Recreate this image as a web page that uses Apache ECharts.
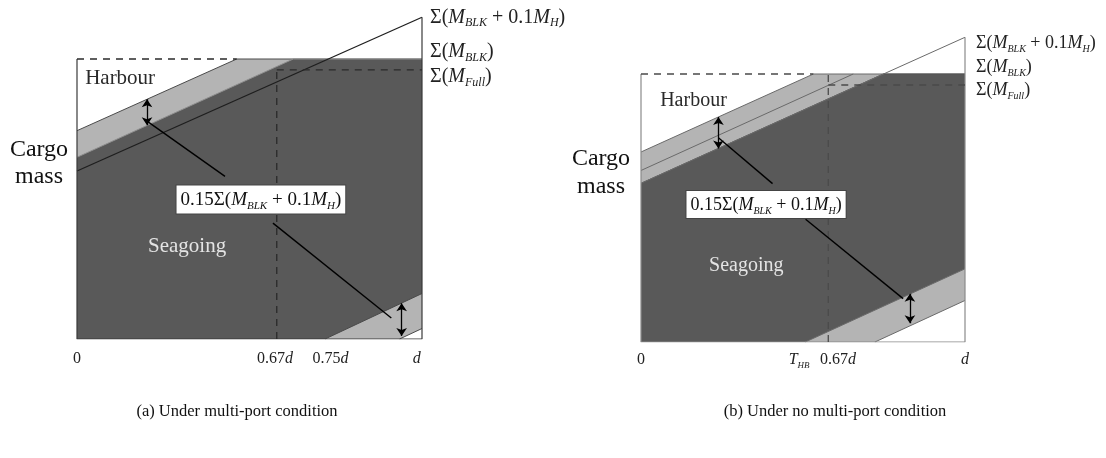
<!DOCTYPE html>
<html>
<head>
<meta charset="utf-8">
<script src="https://cdn.jsdelivr.net/npm/echarts@6.0.0/dist/echarts.min.js"></script>
<style>html,body{margin:0;padding:0;background:#fff}#c{width:1106px;height:458px}</style>
</head>
<body>
<div id="c"></div>
<script>
// ===== DATA (x = fraction of draft d, y relative to Σ(M_BLK) = 1) =====
// Panel (a): multi-port condition
const aBandTop     = [[0, 0.744], [0.463, 1], [1, 1]];   // harbour band upper edge
const aBandMid     = null;
const aSeagoingTop = [[0, 0.649], [0.627, 1], [1, 1]];   // seagoing region upper edge
const aBlkHLine    = [[0, 0.600], [1, 1.149]];           // Σ(M_BLK + 0.1M_H)
const aLowBandTop  = [[0.719, 0], [1, 0.1625]];
const aLowBandBot  = [[0.935, 0], [1, 0.0375]];
const aFullLevel   = 0.961;                              // Σ(M_Full)
const aDraft067    = 0.579;
const aTopDashEnd  = 0.463;
const aArrows      = [[[0.203, 0.763], [0.203, 0.856]], [[0.941, 0.011], [0.941, 0.1275]]];
const aLeaders     = [[[0.204, 0.777], [0.429, 0.581]], [[0.568, 0.414], [0.911, 0.075]]];
const aTickPos     = [0, 0.574, 0.735, 0.985];
const aTickLabels  = ['0', '0.67d', '0.75d', 'd'];
const aHarbourAt   = [0.125, 0.93];
const aSeagoingAt  = [0.319, 0.329];
const aNoteAt      = [0.533, 0.498];

// Panel (b): no multi-port condition
const bBandTop     = [[0, 0.709], [0.532, 1], [1, 1]];
const bBandMid     = [[0, 0.640], [0.655, 1]];
const bSeagoingTop = [[0, 0.592], [0.748, 1], [1, 1]];
const bBlkHLine    = [[0, 0.592], [1, 1.137]];
const bLowBandTop  = [[0.507, 0], [1, 0.273]];
const bLowBandBot  = [[0.722, 0], [1, 0.155]];
const bFullLevel   = 0.959;
const bDraft067    = 0.578;
const bTopDashEnd  = 0.532;
const bArrows      = [[[0.239, 0.722], [0.239, 0.840]], [[0.830, 0.070], [0.830, 0.180]]];
const bLeaders     = [[[0.239, 0.762], [0.406, 0.591]], [[0.508, 0.458], [0.809, 0.162]]];
const bTickPos     = [0, 0.488, 0.608, 1];
const bTickLabels  = ['0', 'T_HB', '0.67d', 'd'];
const bHarbourAt   = [0.162, 0.901];
const bSeagoingAt  = [0.325, 0.284];
const bNoteAt      = [0.386, 0.513];

const captions = ['(a) Under multi-port condition', '(b) Under no multi-port condition'];

// ===== STYLE =====
const SERIF = '"Liberation Serif","Times New Roman",serif';
const DARK = '#595959', LIGHT = '#b4b4b4';
function R(fs, color) {
  const sub = Math.round(fs * 0.58);
  return {
    n: {fontFamily: SERIF, fontSize: fs, color: color, lineHeight: fs + 4},
    i: {fontFamily: SERIF, fontSize: fs, fontStyle: 'italic', color: color, lineHeight: fs + 4},
    s: {fontFamily: SERIF, fontSize: sub, fontStyle: 'italic', color: color, lineHeight: sub + 1, verticalAlign: 'bottom'}
  };
}
const SUM_BH = '{n|Σ(}{i|M}{s|BLK}{n| + 0.1}{i|M}{s|H}{n|)}';
const SUM_B  = '{n|Σ(}{i|M}{s|BLK}{n|)}';
const SUM_F  = '{n|Σ(}{i|M}{s|Full}{n|)}';
const NOTE   = '{n|0.15Σ(}{i|M}{s|BLK}{n| + 0.1}{i|M}{s|H}{n|)}';
function tickRich(t) {
  if (t === 'T_HB') return '{i|T}{s|HB}';
  if (t.endsWith('d')) return (t.length > 1 ? '{n|' + t.slice(0, -1) + '}' : '') + '{i|d}';
  return '{n|' + t + '}';
}

function buildPanel(gi, P, S) {
  const ax = {xAxisIndex: gi, yAxisIndex: gi};
  const base = Object.assign({type: 'line', symbol: 'none', silent: true, animation: false}, ax);
  const dashed = {color: S.dash, width: 1.3, type: [7, 6]};
  const list = [];
  list.push(Object.assign({}, base, {z: 1, data: P.bandTop,
    lineStyle: {color: S.edge, width: 1}, areaStyle: {color: LIGHT, opacity: 1},
    endLabel: {show: true, formatter: () => SUM_B, rich: R(S.fs, '#222'), distance: S.dist, offset: [0, S.offB]}}));
  if (P.bandMid) list.push(Object.assign({}, base, {z: 2, data: P.bandMid, lineStyle: {color: S.edge, width: 1}}));
  list.push(Object.assign({}, base, {z: 3, data: P.seagoingTop,
    lineStyle: {color: S.bEdge, width: 1}, areaStyle: {color: DARK, opacity: 1}}));
  list.push(Object.assign({}, base, {z: 4, data: P.lowTop,
    lineStyle: {color: S.edge, width: 1}, areaStyle: {color: LIGHT, opacity: 1}}));
  list.push(Object.assign({}, base, {z: 5, data: P.lowBot,
    lineStyle: {color: S.edge, width: 1}, areaStyle: {color: '#ffffff', opacity: 1}}));
  list.push(Object.assign({}, base, {z: 6, data: P.blkH,
    lineStyle: {color: S.cLine, width: S.cWidth},
    endLabel: {show: true, formatter: () => SUM_BH, rich: R(S.fs, '#222'), distance: S.dist, offset: [0, S.offBH]}}));
  const topY = P.blkH[P.blkH.length - 1][1];
  list.push(Object.assign({}, base, {z: 7, data: [[0, 1], [0, 0], [1, 0], [1, topY]],
    lineStyle: {color: S.box, width: 1.2}}));
  list.push(Object.assign({}, base, {z: 7, data: [[0, 1], [P.topDashEnd, 1]], lineStyle: dashed}));
  list.push(Object.assign({}, base, {z: 7, data: [[P.draft, 0], [P.draft, P.draftTop]], lineStyle: dashed}));
  list.push(Object.assign({}, base, {z: 7, data: [[P.draft, P.full], [1, P.full]], lineStyle: dashed,
    endLabel: {show: true, formatter: () => SUM_F, rich: R(S.fs, '#222'), distance: S.dist, offset: [0, S.offF]}}));
  list.push(Object.assign({type: 'lines', coordinateSystem: 'cartesian2d', silent: true, animation: false, z: 8}, ax, {
    symbol: ['arrow', 'arrow'], symbolSize: 8,
    lineStyle: {color: '#000', width: 1.3, opacity: 1},
    data: P.arrows.map(c => ({coords: c}))}));
  list.push(Object.assign({type: 'lines', coordinateSystem: 'cartesian2d', silent: true, animation: false, z: 8}, ax, {
    symbol: ['none', 'none'],
    lineStyle: {color: '#000', width: 1.4, opacity: 1},
    data: P.leaders.map(c => ({coords: c}))}));
  const lab = (extra) => Object.assign({show: true, position: 'inside', opacity: 1}, extra);
  list.push(Object.assign({type: 'scatter', silent: true, animation: false, z: 10, symbolSize: 1,
    itemStyle: {color: 'rgba(0,0,0,0)', opacity: 1}, emphasis: {disabled: true}}, ax, {
    data: [
      {value: P.harbourAt, label: lab({formatter: 'Harbour', fontFamily: SERIF, fontSize: S.regionFs, color: '#2a2a2a'})},
      {value: P.seagoingAt, label: lab({formatter: 'Seagoing', fontFamily: SERIF, fontSize: S.regionFs, color: '#e4e4e4'})},
      {value: P.noteAt, label: lab({formatter: NOTE, rich: R(S.noteFs, '#111'),
        backgroundColor: '#ffffff', borderColor: '#444', borderWidth: 1, padding: [3, 4, 2, 4]})}
    ]}));
  return list;
}

const PA = {bandTop: aBandTop, bandMid: aBandMid, seagoingTop: aSeagoingTop, blkH: aBlkHLine,
  lowTop: aLowBandTop, lowBot: aLowBandBot, full: aFullLevel, draft: aDraft067, draftTop: aFullLevel,
  topDashEnd: aTopDashEnd, arrows: aArrows, leaders: aLeaders,
  harbourAt: aHarbourAt, seagoingAt: aSeagoingAt, noteAt: aNoteAt};
const PB = {bandTop: bBandTop, bandMid: bBandMid, seagoingTop: bSeagoingTop, blkH: bBlkHLine,
  lowTop: bLowBandTop, lowBot: bLowBandBot, full: bFullLevel, draft: bDraft067, draftTop: 1,
  topDashEnd: bTopDashEnd, arrows: bArrows, leaders: bLeaders,
  harbourAt: bHarbourAt, seagoingAt: bSeagoingAt, noteAt: bNoteAt};
const SA = {edge: '#4a4a4a', bEdge: '#8f8f8f', cLine: '#1e1e1e', cWidth: 1.3, box: '#3a3a3a', dash: '#2a2a2a',
  fs: 20, dist: 8, offB: -7, offBH: 0, offF: 7, regionFs: 21, noteFs: 19};
const SB = {edge: '#6a6a6a', bEdge: '#555', cLine: '#6a6a6a', cWidth: 1, box: '#8a8a8a', dash: '#4a4a4a',
  fs: 18, dist: 11, offB: -7, offBH: 6, offF: 5, regionFs: 20, noteFs: 18};

function xAxisFor(gi, pos, labels, margin) {
  return {type: 'value', gridIndex: gi, min: 0, max: 1,
    axisLine: {show: false}, axisTick: {show: false}, splitLine: {show: false},
    axisLabel: {customValues: pos, margin: margin, fontFamily: SERIF, fontSize: 16, color: '#222',
      rich: R(16, '#222'),
      formatter: function (v) {
        let k = 0, best = 1e9;
        pos.forEach((p, i) => { if (Math.abs(p - v) < best) { best = Math.abs(p - v); k = i; } });
        return tickRich(labels[k]);
      }}};
}
function yAxisFor(gi) {
  return {type: 'value', gridIndex: gi, min: 0, max: 1.2, show: false,
    axisLine: {show: false}, axisTick: {show: false}, splitLine: {show: false}, axisLabel: {show: false}};
}

const chart = echarts.init(document.getElementById('c'), null, {renderer: 'canvas'});
chart.setOption({
  animation: false,
  backgroundColor: '#ffffff',
  textStyle: {fontFamily: SERIF},
  grid: [
    {left: 77, top: 3, width: 345, height: 336, containLabel: false, outerBoundsMode: 'none'},
    {left: 641, top: 20.4, width: 324, height: 321.6, containLabel: false, outerBoundsMode: 'none'}
  ],
  xAxis: [xAxisFor(0, aTickPos, aTickLabels, 10), xAxisFor(1, bTickPos, bTickLabels, 8)],
  yAxis: [yAxisFor(0), yAxisFor(1)],
  graphic: [
    {type: 'text', x: 39, y: 163, style: {text: 'Cargo\nmass', font: '24px ' + SERIF, fill: '#111', align: 'center', verticalAlign: 'middle', lineHeight: 27}},
    {type: 'text', x: 601, y: 173, style: {text: 'Cargo\nmass', font: '24px ' + SERIF, fill: '#111', align: 'center', verticalAlign: 'middle', lineHeight: 28}},
    {type: 'text', x: 237, y: 412, style: {text: captions[0], font: '16.5px ' + SERIF, fill: '#111', align: 'center', verticalAlign: 'middle'}},
    {type: 'text', x: 835, y: 412, style: {text: captions[1], font: '16.5px ' + SERIF, fill: '#111', align: 'center', verticalAlign: 'middle'}}
  ],
  series: buildPanel(0, PA, SA).concat(buildPanel(1, PB, SB))
});
</script>
</body>
</html>
